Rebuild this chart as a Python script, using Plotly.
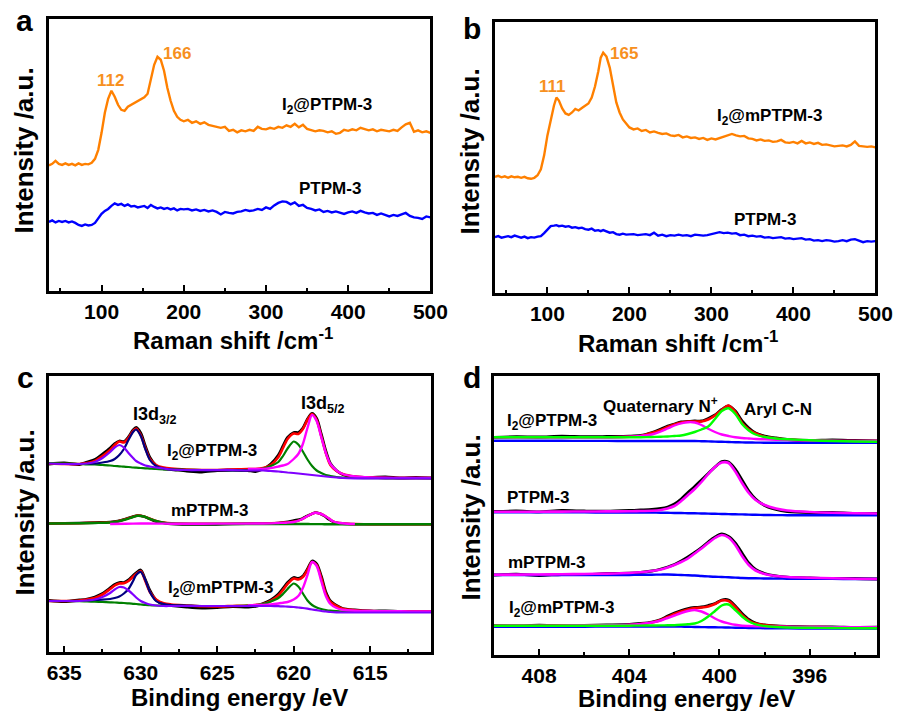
import plotly.graph_objects as go

W, H = 912, 711
FONT = "Liberation Sans, Arial, sans-serif"

# ---------------- Panel a : Raman (I2@PTPM-3 / PTPM-3) ----------------
RAMAN_X_A = [36, 40, 44, 48, 52, 56, 60, 64, 68, 72, 76, 80, 84, 88, 92, 96, 100, 104, 108, 112,
             116, 120, 124, 128, 132, 136, 140, 144, 148, 152, 156, 160, 164, 168, 172, 176, 180,
             184, 188, 192, 196, 200, 205, 210, 215, 220, 225, 230, 235, 240, 245, 250, 255, 260,
             265, 270, 275, 280, 285, 290, 295, 300, 305, 310, 315, 320, 325, 330, 335, 340, 345,
             350, 355, 360, 365, 370, 375, 380, 385, 390, 395, 400, 405, 410, 415, 420, 425, 430,
             435, 440, 445, 450, 455, 460, 465, 470, 475, 480, 485, 490, 495, 500]
A_I2_PTPM = [125.5, 127, 130, 127, 126, 127.5, 126, 127, 125.5, 127.5, 126, 127, 126.5, 128, 132, 141,
             158, 178, 192, 200, 194, 186, 181, 180, 184, 186, 188, 190, 192, 193.5, 197, 210, 226,
             234, 231, 220, 203, 190, 180, 174, 171, 169.5,
             171, 168, 169.5, 167, 168.5, 166, 165, 164.5, 163, 164,
             160, 161, 158.5, 160.5, 159.5, 161, 160, 164, 162, 161.5,
             163, 162, 164, 163, 165.5, 164, 167, 163.5, 166, 162,
             161, 159.5, 160.5, 160, 158.5, 159.5, 157, 158, 161, 160,
             161.5, 160.5, 163, 162, 160.5, 161.5, 159.5, 161, 160.5, 159.5,
             161, 160, 163.5, 166.5, 168, 159, 160.5, 158.5, 159.5, 158]
A_PTPM = [69, 70.5, 68.5, 70, 69, 70, 68.5, 69.5, 68, 66, 65, 66.5, 65.5, 66, 68, 73, 77, 80, 82, 85,
          87.5, 86, 87, 85, 86.5, 84.5, 85, 83.5, 84, 85, 83, 86, 84, 82.5, 83.5, 82, 83, 81.5, 82.5,
          80.5, 82, 81.5,
          82, 80.5, 81.5, 80, 81, 79.5, 80.5, 79, 76.5, 79,
          78, 77.5, 79, 79.5, 81, 80, 80.5, 82, 81, 83.5,
          82, 85.5, 88, 89.5, 89, 86.5, 88.5, 85, 86, 83,
          82, 80.5, 81.5, 79, 80, 78.5, 79.5, 78, 77, 78.5,
          79.5, 78, 80, 78.5, 77.5, 78, 76, 77.5, 76, 74.5,
          76, 75, 76.5, 78, 75, 73.5, 73, 72, 74.5, 73.5]

# ---------------- Panel b : Raman (I2@mPTPM-3 / PTPM-3) ----------------
RAMAN_X_B = [36, 40, 44, 48, 52, 56, 60, 64, 68, 72, 76, 80, 84, 88, 92, 96, 100, 104, 108,
             111, 114, 118, 122, 126, 130, 134, 138, 142, 146, 150, 154, 158, 162, 165, 168, 172,
             176, 180, 184, 188, 192, 196, 200, 205, 210, 215, 220, 225, 230, 235, 240, 245, 250,
             255, 260, 265, 270, 275, 280, 285, 290, 295, 300, 305, 310, 315, 320, 325, 330, 335,
             340, 345, 350, 355, 360, 365, 370, 375, 380, 385, 390, 395, 400, 405, 410, 415, 420,
             425, 430, 435, 440, 445, 450, 455, 460, 465, 470, 475, 480, 485, 490, 495, 500]
B_I2_MPTPM = [116.5, 117.5, 116, 117, 115.5, 117, 116, 116.5, 115.5, 116.5, 115, 114.5, 115.5, 118,
              124, 138, 158, 174, 188,
              196, 193, 185, 180, 178.5, 181, 184.5, 183, 185.5, 188, 190, 196, 207, 222, 236, 241,
              237, 226, 208, 191, 181, 174, 170, 166,
              164, 165, 162.5, 163.5, 161, 162, 160.5, 159.5, 160, 158,
              157.5, 158.5, 156, 157, 155.5, 156, 154.5, 155.5, 153.5, 155,
              154, 155.5, 157, 158, 159.5, 158, 157, 157.5, 155, 154.5,
              153, 154, 152.5, 153, 151.5, 152, 153.5, 151, 150.5, 151.5,
              150, 152.5, 150, 151, 149.5, 150.5, 148.5, 149, 148, 147,
              147.5, 148, 147, 148.5, 152, 147.5, 147, 146.5, 147, 146]
B_PTPM = [56, 57, 55.5, 56.5, 57, 56, 57.5, 56.5, 55.5, 56.5, 55, 56, 55.5, 56.5, 57, 60, 63.5, 67, 67.5,
          68, 67, 67.5, 66.5, 67, 65.5, 66, 65, 65.5, 64, 63.5, 64.5, 62.5, 63, 62, 63, 61.5, 60.5,
          61, 59, 58.5, 59.5, 58.5, 58.5,
          59, 58, 58.5, 59, 58, 60.5, 57.5, 58.5, 57, 58,
          57.5, 58.5, 57.5, 58, 57, 58.5, 58, 57.5, 58, 59,
          59.5, 61, 60, 60.5, 59.5, 60, 58, 58.5, 57, 57.5,
          56.5, 57, 55.5, 56, 55, 55.5, 56, 54.5, 55, 54,
          54.5, 55, 53.5, 54, 52.5, 53, 52, 53, 52.5, 51.5,
          52, 53, 52, 53.5, 54, 52.5, 51, 52, 51.5, 52]

# ---------------- Panel c : I 3d XPS ----------------
XC = [636, 635, 634, 633.5, 633, 632.5, 632, 631.7, 631.4, 631.1, 630.8, 630.5, 630.3, 630.0, 629.7,
      629.4, 629.0, 628.5, 628, 627, 626, 625, 624, 623, 622.5, 622, 621.5, 621, 620.7, 620.4,
      620.0, 619.7, 619.4, 619.1, 618.8, 618.5, 618.2, 617.9, 617.6, 617.2, 616.8, 616, 615, 614,
      613, 612, 611]
XC_NAVY = [633.5, 633, 632.5, 632, 631.7, 631.4, 631.1, 630.8, 630.5, 630.3, 630.0, 629.7, 629.4,
           629.0, 628.5, 628, 627, 626, 625, 624, 623]
XC_MAG = [623, 622.5, 622, 621.5, 621, 620.7, 620.4, 620.0, 619.7, 619.4, 619.1, 618.8, 618.5, 618.2,
          617.9, 617.6, 617.2, 616.8, 616, 615, 614, 613, 612, 611]
# I2@PTPM-3
C1_RAW = [188, 189, 187.5, 190, 192.5, 198, 204, 208.5, 211, 210.5, 215, 222, 224.5, 219, 206, 194.5,
          186.5, 183, 182.5, 181, 180, 181.5, 182, 181.5, 180.5, 183, 188, 197, 206, 214.5, 219.5,
          219.5, 224, 233, 238.5, 233.5, 218, 201, 188.5, 181.5, 177.5, 175, 174.5, 175, 174, 174.5, 174]
C1_FIT = [188.5, 188, 188, 189, 191, 196, 202, 207, 210.5, 209.5, 214, 221, 223.5, 217, 204, 193, 187,
          184.5, 183.5, 182.5, 182, 182, 182.5, 183, 183, 184, 187, 195, 204, 213, 218.5, 218, 223, 232,
          238, 232, 216, 199, 187, 181, 178, 175.5, 174.5, 174, 174, 174, 174]
C1_VIOLET = [188.5, 188, 188, 188.5, 190, 194, 200, 204.5, 207, 204.5, 199, 194, 191, 188.5, 186.5,
             185.5, 184.5, 183.5, 182.5, 182, 182, 182, 182, 181.5, 181.5, 181.5, 181, 180.5, 180,
             179.5, 179, 178.5, 178, 177.5, 177, 176.5, 176, 175.5, 175, 174.5, 174, 173.7, 173.7,
             173.7, 173.7, 173.7, 173.7]
C1_NAVY = [188.5, 188.5, 189.5, 191, 193, 197, 203, 212, 220, 222.5, 216, 203, 192, 186, 183.5, 182.5,
           182, 181.5, 181.5, 181.5, 181.5]
C1_GREEN = [189, 188.5, 188, 187.5, 187.5, 187, 186.5, 186, 185.7, 185.3, 185, 184.5, 184.3, 184, 183.7,
            183.4, 183, 182.7, 182.5, 182.2, 182, 182, 182, 182, 182.5, 183.5, 186, 190, 196, 203.5,
            210.5, 207.5, 200.5, 192.5, 186, 181.5, 179, 177, 176, 175, 174.5, 174, 173.8, 173.7,
            173.7, 173.7, 173.7]
C1_MAG = [183, 183, 183, 184, 185.5, 186.5, 188, 193, 198, 208, 224, 237, 231, 215, 199, 188, 181.5,
          178, 175.5, 174.5, 174.2, 174, 174, 174]
# mPTPM-3
XC_MID = [636, 634, 633, 632, 631.5, 631, 630.5, 630.2, 629.8, 629.4, 629, 628.5, 628, 626, 624, 622,
          621, 620.5, 620, 619.5, 619.2, 618.9, 618.6, 618.3, 618, 617.7, 617.4, 617, 616.5, 616, 615,
          613, 611]
XC_MID_MAG = [632, 631, 630, 629, 628, 626, 624, 622, 621, 620.5, 620, 619.5, 619.2, 618.9, 618.6,
              618.3, 618, 617.7, 617.4, 617, 616.5, 616]
C2_RAW = [128.5, 129, 129.5, 130, 131, 133, 135.5, 136.5, 135.5, 133, 130.5, 129, 128, 127.5, 128,
          128.5, 129, 130, 131.5, 133, 135.5, 137.5, 139.5, 138.5, 136, 132.5, 130, 128.5, 128, 127.8,
          127.7, 127.7, 127.7]
C2_FIT = [128.5, 128.8, 129.2, 129.7, 130.8, 132.8, 135.3, 136.5, 135.6, 133.3, 131.2, 129.5, 128.7,
          128.2, 128.3, 128.5, 129, 129.5, 130.2, 132.5, 135, 137.5, 139.3, 138.5, 136.5, 133.5, 130.5,
          129, 128.3, 128, 127.8, 127.7, 127.7]
C2_GREEN = [128.5, 128.7, 129, 129.5, 130.5, 132.5, 135, 136.3, 135.5, 133.2, 131, 129.2, 128.5, 128,
            128, 128, 128, 128, 128, 128, 128, 127.9, 127.9, 127.9, 127.8, 127.8, 127.8, 127.8, 127.7,
            127.7, 127.7, 127.7, 127.7]
C2_MAG = [128, 128.3, 128.5, 128.4, 128.3, 128.3, 128.4, 128.5, 129, 129.3, 130, 132.5, 135, 137.5,
          139.3, 138.5, 136.5, 133.5, 130.5, 129, 128.3, 128]
# I2@mPTPM-3
C3_RAW = [51.5, 50.5, 52, 53, 55, 58.5, 64, 67.5, 69.5, 69.5, 72, 76.5, 79, 82, 72.5, 61.5, 52, 47.5,
          46.5, 45, 44, 44.5, 45.5, 45, 45.5, 48.5, 52, 58, 63.5, 69.5, 74.5, 73.5, 76, 83, 91, 88, 76,
          60, 51, 46.5, 43.5, 42, 41, 41, 40.5, 40.5, 40.5]
C3_FIT = [51, 51, 51.5, 52.5, 54, 57.5, 63, 66.5, 68.5, 68.7, 71, 75.3, 78, 81, 71, 60, 52.5, 48.7,
          47.5, 46.5, 45.7, 45.5, 46, 46.5, 47, 48, 51, 56.5, 62, 68, 73.5, 72.5, 75, 82, 90, 87, 74,
          58, 50, 46, 43.3, 41.8, 41, 40.7, 40.5, 40.5, 40.5]
C3_VIOLET = [51, 51, 51, 51.5, 52.5, 55, 59, 62.5, 65, 64.5, 61.5, 57.5, 54.5, 51, 49, 47.5, 46.5, 46,
             46, 46, 46, 46, 46, 46, 46, 46, 46, 45.8, 45.6, 45.4, 45, 44.5, 44, 43.3, 42.5, 41.8, 41,
             40.5, 40, 39.6, 39.5, 39.5, 39.5, 39.5, 39.5, 39.5, 39.5]
C3_NAVY = [51.5, 52, 52.3, 53, 54, 55.5, 58.5, 63, 71, 77, 80, 72, 60, 51, 48, 47, 46.5, 46, 46, 46, 46]
C3_GREEN = [51, 51, 50.8, 50.5, 50.3, 50, 49.7, 49.5, 49.2, 49, 48.6, 48.2, 48, 47.5, 47, 46.8, 46.5,
            46.3, 46.2, 46, 46, 46, 46, 46.3, 46.8, 48, 50.5, 54, 58, 63, 68.5, 65.5, 58.5, 51.5, 47,
            44.5, 43, 42, 41.3, 40.8, 40.5, 40.2, 40, 40, 40, 40, 40]
C3_MAG = [46.5, 47, 47, 47.5, 48.5, 49.3, 50, 52.5, 56, 64, 77, 90, 86, 71, 56, 48, 44, 42.3, 41.3,
          41, 40.8, 40.7, 40.6, 40.5]

# ---------------- Panel d : N 1s XPS ----------------
XD = [410, 409, 408, 407, 406, 405, 404, 403.5, 403, 402.6, 402.3, 402, 401.7, 401.4, 401.1, 400.8,
      400.5, 400.2, 399.9, 399.6, 399.3, 399.0, 398.7, 398.4, 398, 397.5, 397, 396, 395, 394, 393]
D1_RAW = [217.7, 218.3, 218, 218.8, 218.3, 218.5, 218.8, 219.5, 222.5, 226, 229, 231, 233, 233.5, 234,
          234, 236.5, 240, 245.5, 249, 244, 234, 227, 222, 219, 217, 215.5, 214.5, 215, 214.5, 214]
D1_FIT = [217.7, 217.7, 217.7, 217.7, 217.7, 217.8, 218.2, 219, 222, 225, 228, 230.5, 232.5, 233.5,
          233.5, 233.5, 235.5, 239.5, 245, 249.5, 243, 232, 225.5, 221.5, 218.3, 216.5, 215.5, 214.5,
          214, 214, 214]
D1_BASE = [214.3, 214.3, 214.2, 214.2, 214.1, 214.1, 214, 214, 214, 214, 214, 214, 214, 214, 214, 213.8,
           213.6, 213.4, 213.2, 213, 212.8, 212.6, 212.5, 212.4, 212.3, 212.3, 212.3, 212.3, 212.3,
           212.3, 212.3]
D1_ARYL = [217.7, 217.7, 217.7, 217.7, 217.7, 217.7, 217.7, 217.8, 218, 218.3, 218.5, 219, 219.5, 221,
           223, 225.5, 228.5, 236, 244, 246.7, 241, 231, 224.5, 220.5, 218, 216.5, 215.7, 214.7, 214,
           213.5, 213.3]
D1_QUAT = [217.7, 217.7, 217.7, 217.7, 217.7, 217.8, 218.2, 219, 220.5, 223.5, 226.5, 229.5, 231.7,
           232.8, 232.5, 230, 226.2, 223, 220.5, 219, 217.7, 217, 216.5, 216, 215.7, 215.3, 215, 214.5,
           214.2, 214, 214]
D2_RAW = [143.5, 144, 143.2, 144.5, 144, 143.8, 144.5, 145, 145.5, 146.5, 148, 151, 156, 162.5, 168.5,
          175, 181.5, 188, 193.5, 193, 186, 175, 164, 156, 149.5, 145.5, 143.5, 142.5, 142.5, 141.5,
          141.5]
D2_FIT = [143.3, 143.3, 143.3, 143.4, 143.5, 143.6, 143.7, 144, 144.2, 145, 146.5, 149, 154, 160, 166,
          173, 181, 188, 192.5, 192, 183.5, 172, 162, 155, 150, 146.5, 144.5, 143, 142.2, 141.8, 141.5]
D2_BASE = [142.7, 142.7, 142.7, 142.6, 142.6, 142.5, 142.5, 142.5, 142.5, 142.3, 142.2, 142, 142,
           141.8, 141.7, 141.5, 141.4, 141.2, 141, 140.9, 140.7, 140.6, 140.4, 140.2, 140, 139.9,
           139.8, 139.7, 139.7, 139.7, 139.7]
D3_RAW = [80, 80.8, 79.5, 80.5, 80.3, 81.5, 81.8, 82.5, 84, 86, 88, 90.5, 94, 98, 102.5, 107.5, 113,
          118, 121, 118.5, 112, 102, 92, 85.5, 81.5, 79, 77.8, 77, 76.5, 76.5, 76]
D3_FIT = [80.3, 80.4, 80.5, 80.7, 81, 81.4, 82, 82.7, 84, 85.5, 87.5, 90, 93, 96.5, 101.5, 106.5, 112,
          117, 120, 117.5, 110, 99, 90, 84.5, 81, 79, 78, 77.2, 76.7, 76.3, 76]
D3_BASE = [80, 80, 80, 80, 80, 80, 80, 80.2, 80.3, 80.4, 80.5, 80.3, 80, 79.8, 79.5, 79, 78.6, 78.2, 78,
           77.7, 77.4, 77, 76.8, 76.7, 76.5, 76.4, 76.3, 76.2, 76.1, 76, 76]
D4_RAW = [29.5, 29, 29.8, 29.2, 29.6, 30, 30.5, 31.5, 33, 35.5, 39, 42, 44.5, 46.5, 47.5, 48, 49.5,
          51.5, 55, 55, 49, 41.5, 35.5, 32, 30, 29, 28.5, 28, 28.2, 27.7, 27.8]
D4_FIT = [29.3, 29.3, 29.3, 29.4, 29.5, 29.7, 30, 31, 32.5, 35, 38, 41, 43.5, 45.5, 47, 47.5, 48.5, 51,
          54.5, 54, 48, 40, 34.5, 31.5, 30, 29, 28.3, 28, 27.8, 27.7, 27.7]
D4_BASE = [28.3, 28.3, 28.3, 28.3, 28.3, 28.4, 28.4, 28.4, 28.5, 28.5, 28.5, 28.5, 28.4, 28.2, 28,
           27.9, 27.8, 27.7, 27.6, 27.5, 27.3, 27.2, 27, 26.9, 26.8, 26.7, 26.6, 26.5, 26.5, 26.5, 26.5]
D4_ARYL = [29.3, 29.3, 29.3, 29.3, 29.3, 29.3, 29.3, 29.4, 29.5, 29.6, 29.7, 29.8, 30.2, 30.7, 31.5,
           34, 38.5, 44, 49.5, 50.5, 45, 38.5, 33.5, 30.7, 29, 28, 27.5, 27.2, 27, 26.8, 26.7]
D4_QUAT = [29.3, 29.3, 29.3, 29.4, 29.5, 29.8, 30.2, 31, 32.5, 34.5, 37, 39.5, 42, 44, 45, 43.5, 40.5,
           36.5, 33.5, 31.7, 30.2, 29.3, 29, 28.8, 28.5, 28.3, 28.2, 28, 27.9, 27.8, 27.7]

# ---------------- colours ----------------
ORANGE = "#FF8000"
ORANGE_TXT = "#F7901E"
BLUE = "#0000FF"
BLACK = "#000000"
RED = "#FF0000"
VIOLET = "#8000FF"
NAVY = "#000080"
DKGREEN = "#008000"
MAGENTA = "#FF00FF"
LIME = "#00FF00"

fig = go.Figure()


def add(x, y, color, width, ax, shape="linear"):
    fig.add_trace(go.Scatter(x=x, y=y, mode="lines", xaxis="x" + ax, yaxis="y" + ax,
                             line=dict(color=color, width=width, shape=shape,
                                       smoothing=0.8 if shape == "spline" else None),
                             hoverinfo="skip", showlegend=False))


# panel a
add(RAMAN_X_A, A_I2_PTPM, ORANGE, 2.4, "")
add(RAMAN_X_A, A_PTPM, BLUE, 2.4, "")
# panel b
add(RAMAN_X_B, B_I2_MPTPM, ORANGE, 2.4, "2")
add(RAMAN_X_B, B_PTPM, BLUE, 2.4, "2")
# panel c
S = "spline"
for raw, fit, vio, navy, grn, mag in [(C1_RAW, C1_FIT, C1_VIOLET, C1_NAVY, C1_GREEN, C1_MAG),
                                      (C3_RAW, C3_FIT, C3_VIOLET, C3_NAVY, C3_GREEN, C3_MAG)]:
    add(XC, raw, BLACK, 2.8, "3", S)
    add(XC, fit, RED, 2.6, "3", S)
    add(XC, grn, DKGREEN, 2.2, "3", S)
    add(XC_NAVY, navy, NAVY, 2.2, "3", S)
    add(XC_MAG, mag, MAGENTA, 2.4, "3", S)
    add(XC, vio, VIOLET, 2.2, "3", S)
add(XC_MID, C2_RAW, BLACK, 2.6, "3", S)
add(XC_MID, C2_FIT, RED, 2.4, "3", S)
add(XC_MID, C2_GREEN, DKGREEN, 2.4, "3", S)
add(XC_MID_MAG, C2_MAG, MAGENTA, 2.4, "3", S)
# panel d
for raw, fit, base, aryl, quat in [(D1_RAW, D1_FIT, D1_BASE, D1_ARYL, D1_QUAT),
                                   (D4_RAW, D4_FIT, D4_BASE, D4_ARYL, D4_QUAT)]:
    add(XD, raw, BLACK, 2.8, "4", S)
    add(XD, fit, RED, 2.6, "4", S)
    add(XD, base, BLUE, 2.4, "4", S)
    add(XD, quat, MAGENTA, 2.4, "4", S)
    add(XD, aryl, LIME, 2.4, "4", S)
for raw, fit, base in [(D2_RAW, D2_FIT, D2_BASE), (D3_RAW, D3_FIT, D3_BASE)]:
    add(XD, raw, BLACK, 2.8, "4", S)
    add(XD, base, BLUE, 2.4, "4", S)
    add(XD, fit, MAGENTA, 2.6, "4", S)


def xd(l, r):
    return [l / W, r / W]


def yd(b, t):
    return [1 - b / H, 1 - t / H]


TICKFONT = dict(family=FONT, size=21, color="black", weight="bold")


def xaxis(domain, anchor, rng, dtick, minor):
    return dict(domain=domain, anchor=anchor, range=rng, dtick=dtick, tick0=0,
                ticks="inside", ticklen=6, tickwidth=2, tickcolor="black",
                minor=dict(ticks="inside", dtick=minor, ticklen=3, tickwidth=2, tickcolor="black"),
                showline=True, linewidth=3, linecolor="black", mirror=True,
                showgrid=False, zeroline=False, tickfont=TICKFONT)


def yaxis(domain, anchor, rng):
    return dict(domain=domain, anchor=anchor, range=rng, showticklabels=False, ticks="",
                showline=True, linewidth=3, linecolor="black", mirror=True,
                showgrid=False, zeroline=False)


fig.update_layout(
    width=W, height=H, margin=dict(l=0, r=0, t=0, b=0),
    paper_bgcolor="white", plot_bgcolor="white", showlegend=False,
    font=dict(family=FONT, color="black", weight="bold"),
    xaxis=xaxis(xd(48, 438), "y", [36, 500], 100, 50),
    yaxis=yaxis(yd(291, 19), "x", [0, 271.7]),
    xaxis2=xaxis(xd(504, 893), "y2", [36, 500], 100, 50),
    yaxis2=yaxis(yd(293, 22), "x2", [0, 271.7]),
    xaxis3=xaxis(xd(48, 439), "y3", [636, 611], 5, 2.5),
    yaxis3=yaxis(yd(652, 376), "x3", [0, 276]),
    xaxis4=xaxis(xd(503, 895), "y4", [410, 393], 4, 2),
    yaxis4=yaxis(yd(655, 376), "x4", [0, 279]),
)


def ann(text, px, py, size, color="black", angle=0):
    fig.add_annotation(text=text, x=px / W, y=1 - py / H, xref="paper", yref="paper",
                       xanchor="center", yanchor="middle", showarrow=False, textangle=angle,
                       font=dict(family=FONT, size=size, color=color, weight="bold"))


# panel letters
ann("a", 23, 21, 30)
ann("b", 481, 28, 30)
ann("c", 24, 378, 30)
ann("d", 481, 377, 30)

# axis titles
for px, py in [(23, 150), (478, 152), (24, 512), (480, 517)]:
    ann("Intensity /a.u.", px, py, 26, angle=-90)
ann("Raman shift /cm<sup>-1</sup>", 236, 339, 24)
ann("Raman shift /cm<sup>-1</sup>", 691, 342, 24)
ann("Binding energy /eV", 243, 697, 24)
ann("Binding energy /eV", 700, 698, 24)

# panel a labels
ann("112", 111, 80, 17, ORANGE_TXT)
ann("166", 179, 54, 17, ORANGE_TXT)
ann("I<sub>2</sub>@PTPM-3", 332, 106, 17)
ann("PTPM-3", 335, 189, 17)
# panel b labels
ann("111", 563, 86, 17, ORANGE_TXT)
ann("165", 636, 53, 17, ORANGE_TXT)
ann("I<sub>2</sub>@mPTPM-3", 785, 117, 17)
ann("PTPM-3", 780, 219, 17)
# panel c labels
ann("I3d<sub>3/2</sub>", 156, 415, 18)
ann("I3d<sub>5/2</sub>", 328, 404, 18)
ann("I<sub>2</sub>@PTPM-3", 215, 452, 17)
ann("mPTPM-3", 212, 510, 17)
ann("I<sub>2</sub>@mPTPM-3", 223, 589, 17)
# panel d labels
ann("Quaternary N<sup>+</sup>", 673, 405, 17)
ann("Aryl C-N", 793, 409, 17)
ann("I<sub>2</sub>@PTPM-3", 562, 422, 17)
ann("PTPM-3", 548, 497, 17)
ann("mPTPM-3", 557, 562, 17)
ann("I<sub>2</sub>@mPTPM-3", 572, 609, 17)

fig.write_html("out.html")
